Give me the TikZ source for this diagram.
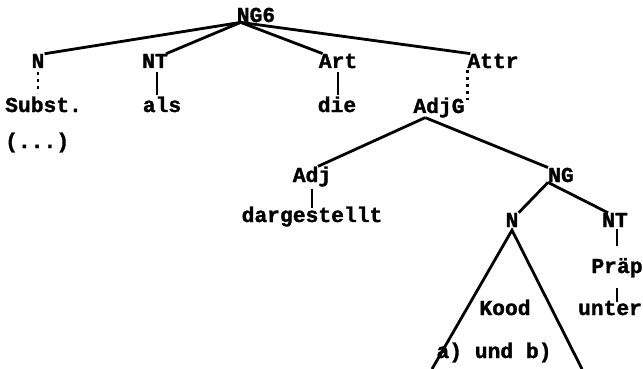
\documentclass[tikz,border=0pt]{standalone}
\usepackage{fontspec}
\setmonofont{Liberation Mono}[BoldFeatures={FakeBold=1.5}]
\usetikzlibrary{positioning}

\begin{document}
\begin{tikzpicture}[x=1pt, y=-1pt, every node/.style={font=\ttfamily\bfseries\fontsize{21.3}{25}\selectfont, inner sep=0pt, anchor=base},
    branch/.style={line width=2.8pt}, dots/.style={line width=2.8pt, dash pattern=on 3pt off 4pt}]
    \tikzstyle{word} = [anchor=base west]

    \useasboundingbox (0,0) rectangle (643,369);

    \node (ng6) at (256,22) {NG6};
    \node (n) at (38,68) {N};
    \node (nt) at (155,68) {NT};
    \node (art) at (338,68) {Art};
    \node (attr) at (493,68) {Attr};

    \node[word] (subst) at (5,112) {Subst.};
    \node[word] (etc) at (5,148) {(...)};
    \node (als) at (162,112) {als};
    \node (die) at (337,112) {die};
    \node (adjg) at (439,113) {AdjG};

    \node (adj) at (312,182) {Adj};
    \node (ng) at (561,182) {NG};
    \node (darg) at (312,222) {dargestellt};
    \node (nn) at (512,227) {N};
    \node (nt2) at (615,227) {NT};
    \node (praep) at (617,273) {Präp};
    \node (unter) at (610,315) {unter};
    \node (kood) at (505,315) {Kood};
    \node (ab) at (494,358) {a) und b)};

    \coordinate (top) at ([xshift=4]ng6.south west);
    \draw[branch] (top) -- (n.north east);
    \draw[branch] (top) -- ([xshift=-2]nt.north east);
    \draw[branch] (top) -- ([xshift=4]art.north west);
    \draw[branch] (top) -- ([xshift=3]attr.north west);

    \draw[dots] ([yshift=-4]n.south) -- +(0,21);
    \draw[branch] ([xshift=2,yshift=-4]nt.south) -- +(0,23);
    \draw[branch] ([yshift=-4]art.south) -- +(0,23);
    \draw[dots] ([yshift=-2]attr.south west) -- +(0,30);

    \coordinate (adjgfoot) at ([xshift=12]adjg.south west);
    \draw[branch] (adjgfoot) -- ([xshift=6]adj.north);
    \draw[branch] (adjgfoot) -- (ng.north west);
    \draw[branch] ([yshift=-2]adj.south) -- +(0,19);

    \draw[branch] (ng.south west) -- (nn.north east);
    \draw[branch] (ng.south west) -- ([xshift=6]nt2.north west);
    \draw[branch] ([xshift=2,yshift=-2]nt2.south) -- +(0,17);
    \draw[branch] ([yshift=-10]praep.south) -- +(0,14);

    % Dreieck unter N
    \coordinate (kl) at (432,369);
    \coordinate (kr) at (582,369);
    \draw[branch] (kl) -- ([yshift=-3]nn.south) -- (kr);
\end{tikzpicture}
\end{document}
